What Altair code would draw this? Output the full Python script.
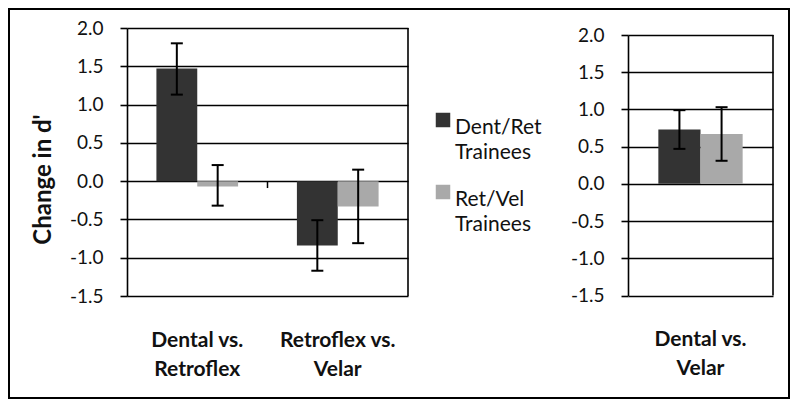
import altair as alt
import pandas as pd

# ---- data ----
categories = ["Dental vs. Retroflex", "Retroflex vs. Velar", "Dental vs. Velar"]
panels = ["left", "left", "right"]
series = ["Dent/Ret Trainees", "Ret/Vel Trainees"]
dent_ret_mean = [1.47, -0.84, 0.73]
dent_ret_low = [1.13, -1.17, 0.47]
dent_ret_high = [1.80, -0.51, 0.99]
ret_vel_mean = [-0.07, -0.33, 0.67]
ret_vel_low = [-0.32, -0.81, 0.31]
ret_vel_high = [0.21, 0.15, 1.03]
y_ticks = [-1.5, -1.0, -0.5, 0.0, 0.5, 1.0, 1.5, 2.0]
colors = ["#333333", "#a9a9a9"]

rows = []
for i, c in enumerate(categories):
    rows.append(dict(category=c, panel=panels[i], series=series[0],
                     mean=dent_ret_mean[i], low=dent_ret_low[i], high=dent_ret_high[i]))
    rows.append(dict(category=c, panel=panels[i], series=series[1],
                     mean=ret_vel_mean[i], low=ret_vel_low[i], high=ret_vel_high[i]))
df = pd.DataFrame(rows)
legend_df = pd.DataFrame({"series": series})

FONT = "Lato"
color_enc = alt.Color("series:N", sort=series,
                      scale=alt.Scale(domain=series, range=colors), legend=None)

Y_LABEL = "datum.value < 0 ? '-' + format(-datum.value, '.1f') : format(datum.value, '.1f')"
X_LABEL = "split(replace(datum.label, 'vs. ', 'vs.|'), '|')"


def make_panel(panel_name, xrange, yrange, x_offset, y_offset, title):
    data = df[df["panel"] == panel_name]
    cats = [c for c, p in zip(categories, panels) if p == panel_name]
    frame_df = pd.DataFrame({"category": [cats[-1]], "low": [y_ticks[0]], "high": [y_ticks[-1]]})

    xscale = alt.Scale(domain=cats, range=xrange, paddingInner=0, paddingOuter=0)
    yscale = alt.Scale(domain=[y_ticks[0], y_ticks[-1]], range=yrange, nice=False, zero=False)
    xoff = alt.XOffset("series:N", sort=series,
                       scale=alt.Scale(domain=series, paddingInner=0, paddingOuter=0.72))

    x_axis = alt.Axis(orient="bottom", offset=x_offset, domain=False, ticks=False, grid=False,
                      labelExpr=X_LABEL, labelFont=FONT, labelFontWeight="bold",
                      labelFontSize=21, labelColor="#111111", labelPadding=33,
                      labelLineHeight=29, labelAngle=0, labelOverlap=False, labelLimit=300)
    y_axis_kwargs = dict(orient="left", offset=y_offset, values=y_ticks, labelExpr=Y_LABEL,
                         grid=True, gridColor="#000000", gridWidth=1.6, gridOpacity=1,
                         domain=True, domainColor="#000000", domainWidth=1.6,
                         ticks=True, tickColor="#000000", tickWidth=1.6, tickSize=7,
                         labelFont=FONT, labelFontSize=19, labelColor="#111111",
                         labelPadding=17)
    if title:
        y_axis = alt.Axis(title=title, titleFont=FONT, titleFontSize=24, titleFontWeight="bold",
                          titleColor="#111111", titleAngle=270, titleX=-84, titleY=170,
                          titleAlign="center", titleBaseline="middle", **y_axis_kwargs)
    else:
        y_axis = alt.Axis(title=None, **y_axis_kwargs)

    x_main = alt.X("category:N", sort=cats, scale=xscale, axis=x_axis, title=None)
    x_plain = alt.X("category:N", sort=cats, scale=xscale, axis=None)

    bars = alt.Chart(data).mark_bar().encode(
        x=x_main, xOffset=xoff,
        y=alt.Y("mean:Q", scale=yscale, axis=y_axis, stack=None),
        color=color_enc,
    )
    whisk = alt.Chart(data).mark_rule(color="#000000", strokeWidth=2).encode(
        x=x_plain, xOffset=xoff,
        y=alt.Y("low:Q", scale=yscale, axis=None), y2="high:Q",
    )
    cap_lo = alt.Chart(data).mark_tick(color="#000000", size=12, thickness=2, opacity=1).encode(
        x=x_plain, xOffset=xoff, y=alt.Y("low:Q", scale=yscale, axis=None),
    )
    cap_hi = alt.Chart(data).mark_tick(color="#000000", size=12, thickness=2, opacity=1).encode(
        x=x_plain, xOffset=xoff, y=alt.Y("high:Q", scale=yscale, axis=None),
    )
    frame = alt.Chart(frame_df).mark_rule(color="#000000", strokeWidth=1.6).encode(
        x=alt.X("category:N", sort=cats, scale=xscale, axis=None, bandPosition=1),
        y=alt.Y("low:Q", scale=yscale, axis=None), y2="high:Q",
    )
    layers = [bars, whisk, cap_lo, cap_hi, frame]
    if len(cats) > 1:
        div_df = pd.DataFrame({"category": cats[1:], "low": [-0.09] * (len(cats) - 1),
                               "high": [0.0] * (len(cats) - 1)})
        divider = alt.Chart(div_df).mark_rule(color="#000000", strokeWidth=1.5).encode(
            x=alt.X("category:N", sort=cats, scale=xscale, axis=None, bandPosition=0),
            y=alt.Y("low:Q", scale=yscale, axis=None), y2="high:Q",
        )
        layers.append(divider)
    return layers


left = make_panel("left", [118, 399], [287, 19], -102, -118, "Change in d'")
right = make_panel("right", [619, 764], [286.5, 26], -102.5, -619, None)

legend_y = alt.Y("series:N", sort=series,
                 scale=alt.Scale(type="point", domain=series, range=[111, 183], padding=0),
                 axis=None)
legend_sq = alt.Chart(legend_df).mark_square(size=210, opacity=1).encode(
    x=alt.value(434), y=legend_y, color=color_enc,
)
legend_txt = alt.Chart(legend_df).mark_text(
    align="left", baseline="top", dy=-3, lineBreak=" ", lineHeight=25,
    font=FONT, fontSize=21, color="#111111",
).encode(x=alt.value(446), y=legend_y, text="series:N")

chart = alt.layer(*left, *right, legend_sq, legend_txt).resolve_scale(
    x="independent", y="independent", xOffset="independent"
).resolve_axis(
    x="independent", y="independent"
).properties(
    width=780, height=389,
    padding={"left": 1, "top": 1, "right": 1, "bottom": 1},
    autosize=alt.AutoSizeParams(type="none"),
    background="#ffffff",
).configure_view(
    stroke="#000000", strokeWidth=2, fill="#ffffff"
)

chart.save("out.html", embed_options={"renderer": "svg", "actions": False})
